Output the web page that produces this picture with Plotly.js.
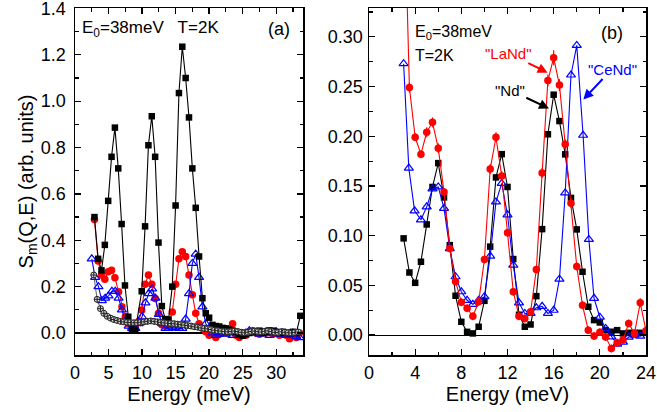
<!DOCTYPE html>
<html>
<head>
<meta charset="utf-8">
<script src="https://cdn.plot.ly/plotly-3.0.1.min.js"></script>
<style>
  html, body { margin: 0; padding: 0; background: #fff; }
  #chart { width: 657px; height: 412px; }
</style>
</head>
<body>
<div id="chart"></div>
<script>
// ---- Panel (a): full energy range ----
const aNdE   = [2.9, 3.45, 3.95, 4.45, 4.95, 5.45, 5.95, 6.45, 6.95, 7.45, 7.95, 8.5, 9.0, 9.95, 10.45, 10.95, 11.45, 11.95, 12.45, 12.95, 13.45, 13.95, 14.5, 15.0, 15.5, 16.0, 16.5, 17.0, 17.5, 18.0, 18.5, 19.0, 19.5, 20.0, 20.5, 21.0, 21.5, 22.0, 22.5, 23.0, 23.5, 24.0, 24.5, 25.0, 25.5, 26.0, 26.5, 27.0, 27.5, 28.0, 28.5, 29.0, 29.5, 30.0, 30.5, 31.0, 31.5, 32.0, 32.5, 33.0, 33.6];
const aNdS   = [0.50, 0.32, 0.27, 0.38, 0.57, 0.76, 0.886, 0.71, 0.47, 0.205, 0.07, 0.015, 0.01, 0.18, 0.46, 0.81, 0.935, 0.76, 0.39, 0.116, 0.06, 0.058, 0.20, 0.55, 1.035, 1.235, 1.10, 0.93, 0.71, 0.54, 0.33, 0.15, 0.085, 0.066, 0.035, 0.03, 0.028, 0.022, 0.02, 0.015, 0.01, 0.005, -0.005, -0.012, -0.005, 0.0, 0.005, 0.008, 0.01, 0.0, 0.005, 0.01, 0.01, 0.005, 0.0, 0.005, 0.0, 0.0, 0.005, 0.0, 0.074];

const aLaNdE = [2.9, 3.45, 3.95, 4.45, 4.95, 5.45, 5.95, 6.5, 7.0, 7.5, 8.0, 8.5, 9.0, 9.5, 9.95, 10.45, 10.95, 11.45, 11.95, 12.45, 12.95, 13.45, 13.95, 14.5, 15.0, 15.5, 16.0, 16.5, 17.0, 17.5, 18.0, 18.5, 19.0, 19.5, 20.0, 20.5, 21.0, 21.5, 22.0, 22.5, 23.0, 23.5, 24.0, 24.5, 25.0, 25.5, 26.0, 26.5, 27.0, 27.5, 28.0, 28.5, 29.0, 29.5, 30.0, 30.5, 31.0, 31.5, 32.0, 32.5, 33.0, 33.5];
const aLaNdS = [0.49, 0.31, 0.25, 0.232, 0.264, 0.271, 0.238, 0.178, 0.113, 0.07, 0.04, 0.03, 0.03, 0.05, 0.099, 0.21, 0.25, 0.21, 0.149, 0.085, 0.035, 0.03, 0.04, 0.09, 0.21, 0.32, 0.35, 0.33, 0.25, 0.165, 0.085, 0.04, 0.02, 0.005, -0.01, 0.0, -0.02, -0.005, 0.005, 0.0, 0.01, 0.04, -0.01, -0.02, 0.0, -0.01, 0.005, 0.01, 0.0, -0.005, 0.005, 0.0, 0.01, -0.005, 0.0, -0.01, 0.0, -0.01, -0.025, 0.0, -0.02, 0.0];

const aCeNdE = [2.5, 3.0, 3.5, 4.0, 4.5, 5.0, 5.5, 6.0, 6.5, 7.0, 7.5, 8.0, 8.5, 9.0, 9.5, 10.0, 10.5, 11.0, 11.5, 12.0, 12.5, 13.0, 13.5, 14.0, 14.5, 15.0, 15.5, 16.0, 16.5, 17.0, 17.5, 18.0, 18.5, 19.0, 19.5, 20.0, 20.5, 21.0, 21.5, 22.0, 22.5, 23.0, 23.5, 24.0, 24.5, 25.0, 25.5, 26.0, 26.5, 27.0, 27.5, 28.0, 28.5, 29.0, 29.5, 30.0, 30.5, 31.0, 31.5, 32.0, 32.5, 33.0, 33.5];
const aCeNdS = [0.32, 0.24, 0.2, 0.14, 0.15, 0.16, 0.18, 0.18, 0.15, 0.1, 0.05, 0.03, 0.02, 0.02, 0.04, 0.07, 0.13, 0.17, 0.19, 0.15, 0.08, 0.04, 0.02, 0.02, 0.025, 0.025, 0.02, 0.02, 0.06, 0.17, 0.30, 0.34, 0.24, 0.113, 0.04, 0.02, 0.0, -0.01, -0.005, 0.0, -0.005, 0.005, -0.01, 0.0, -0.01, -0.005, 0.0, 0.01, 0.005, 0.0, -0.005, 0.0, 0.005, -0.01, 0.0, 0.005, -0.005, 0.0, -0.01, -0.005, 0.0, -0.015, -0.02];

const aRefE  = [2.8, 3.3, 3.8, 4.3, 4.8, 5.3, 5.8, 6.3, 6.8, 7.3, 7.8, 8.3, 8.8, 9.3, 9.8, 10.3, 10.8, 11.3, 11.8, 12.3, 12.8, 13.3, 13.8, 14.3, 14.8, 15.3, 15.8, 16.3, 16.8, 17.3, 17.8, 18.3, 18.8, 19.3, 19.8, 20.3, 20.8, 21.3, 21.8, 22.3, 22.8, 23.3, 23.8, 24.3, 24.8, 25.3, 25.8, 26.3, 26.8, 27.3, 27.8, 28.3, 28.8, 29.3, 29.8, 30.3, 30.8, 31.3, 31.8, 32.3, 32.8, 33.3];
const aRefS  = [0.25, 0.145, 0.105, 0.085, 0.072, 0.064, 0.058, 0.054, 0.05, 0.048, 0.046, 0.045, 0.044, 0.044, 0.046, 0.048, 0.05, 0.052, 0.05, 0.048, 0.046, 0.044, 0.042, 0.041, 0.04, 0.038, 0.036, 0.034, 0.032, 0.03, 0.027, 0.025, 0.022, 0.02, 0.018, 0.015, 0.012, 0.01, 0.008, 0.006, 0.005, 0.006, 0.008, 0.006, 0.003, 0.001, 0.003, 0.006, 0.008, 0.006, 0.004, 0.007, 0.009, 0.006, 0.003, 0.002, 0.005, 0.003, 0.001, 0.0, 0.002, 0.004];

// ---- Panel (b): low-energy detail ----
const bNdE   = [3.0, 3.5, 4.0, 4.5, 5.0, 5.5, 6.0, 6.5, 7.0, 7.5, 8.0, 8.5, 9.0, 9.5, 10.0, 10.5, 11.0, 11.5, 12.0, 12.5, 13.0, 13.5, 14.0, 14.5, 15.0, 15.5, 16.0, 16.5, 17.0, 17.5, 18.0, 18.5, 19.0, 19.5, 20.0, 20.5, 21.0, 21.5, 22.0, 22.5, 23.0, 23.5, 24.0];
const bNdS   = [0.0973, 0.063, 0.0526, 0.0738, 0.1113, 0.149, 0.173, 0.1385, 0.0905, 0.0396, 0.0134, 0.0033, 0.0017, 0.0084, 0.0345, 0.089, 0.1586, 0.182, 0.149, 0.0765, 0.0205, 0.0084, 0.0107, 0.0392, 0.1066, 0.202, 0.2418, 0.2153, 0.1818, 0.138, 0.1063, 0.0637, 0.0285, 0.0151, 0.0127, 0.005, 0.0034, 0.005, 0.0017, 0.0023, 0.0023, 0.0023, 0.0023];

const bLaNdE = [2.95, 3.5, 4.0, 4.5, 5.0, 5.5, 6.0, 6.5, 7.0, 7.5, 8.0, 8.5, 9.0, 9.5, 10.0, 10.5, 11.0, 11.5, 12.0, 12.5, 13.0, 13.5, 14.0, 14.5, 15.0, 15.5, 16.0, 16.5, 17.0, 17.5, 18.0, 18.5, 19.0, 19.5, 20.0, 20.5, 21.0, 21.5, 22.0, 22.5, 23.0, 23.5, 24.0];
const bLaNdS = [0.49, 0.249, 0.199, 0.182, 0.204, 0.214, 0.188, 0.144, 0.087, 0.054, 0.033, 0.027, 0.019, 0.0335, 0.076, 0.167, 0.199, 0.16, 0.103, 0.0436, 0.019, 0.0168, 0.0235, 0.066, 0.163, 0.256, 0.279, 0.2515, 0.192, 0.1325, 0.069, 0.030, 0.005, -0.001, 0.003, -0.002, -0.0134, -0.0077, -0.005, 0.0118, 0.0017, 0.0325, 0.0043];
const bLaNdErr = [0.008, 0.005, 0.004, 0.004, 0.005, 0.005, 0.005, 0.004, 0.004, 0.004, 0.004, 0.004, 0.004, 0.004, 0.004, 0.005, 0.005, 0.005, 0.004, 0.004, 0.004, 0.004, 0.004, 0.004, 0.005, 0.006, 0.0075, 0.006, 0.005, 0.005, 0.004, 0.004, 0.004, 0.004, 0.004, 0.004, 0.004, 0.004, 0.004, 0.004, 0.004, 0.0045, 0.004];

const bCeNdE = [3.0, 3.45, 3.95, 4.5, 5.0, 5.5, 6.0, 6.5, 7.0, 7.5, 8.0, 8.5, 9.0, 9.5, 10.0, 10.5, 11.0, 11.5, 12.0, 12.5, 13.0, 13.5, 14.0, 14.5, 15.0, 15.5, 16.0, 16.5, 17.0, 17.5, 18.0, 18.55, 19.05, 19.5, 20.0, 20.5, 21.0, 21.5, 22.0, 22.5, 23.0, 23.5, 24.0];
const bCeNdS = [0.273, 0.168, 0.125, 0.116, 0.129, 0.147, 0.149, 0.1275, 0.087, 0.0587, 0.0436, 0.035, 0.031, 0.035, 0.0386, 0.0795, 0.134, 0.1526, 0.121, 0.0704, 0.0325, 0.0218, 0.0218, 0.0275, 0.029, 0.0218, 0.025, 0.0563, 0.143, 0.2616, 0.2914, 0.201, 0.0963, 0.037, 0.018, 0.0067, -0.0017, -0.009, -0.007, -0.002, 0.0, -0.001, 0.002];

// Axis tick values and labels
const aTickVals = [0, 0.2, 0.4, 0.6, 0.8, 1.0, 1.2, 1.4];
const aTickText = ['0.0', '0.2', '0.4', '0.6', '0.8', '1.0', '1.2', '1.4'];

// Labels drawn in the panels
const panelATag = '(a)';
const panelBTag = '(b)';
const condA = 'E<sub>0</sub>=38meV\u00a0\u00a0 T=2K';
const condB1 = 'E<sub>0</sub>=38meV';
const condB2 = 'T=2K';
const sampleNames = ['"LaNd"', '"Nd"', '"CeNd"'];

const FONT = 'Arial, "Liberation Sans", sans-serif';
const RED = '#ff0000', BLUE = '#0000ff', BLACK = '#000000';

function line(color) { return { color: color, width: 1.1 }; }

const traces = [
  { x: aLaNdE, y: aLaNdS, xaxis: 'x', yaxis: 'y', mode: 'lines+markers', line: line(RED),
    marker: { symbol: 'circle', size: 7.5, color: RED } },
  { x: aCeNdE, y: aCeNdS, xaxis: 'x', yaxis: 'y', mode: 'lines+markers', line: line(BLUE),
    marker: { symbol: 'triangle-up-open', size: 8, color: BLUE, line: { width: 1.2, color: BLUE } } },
  { x: aNdE, y: aNdS, xaxis: 'x', yaxis: 'y', mode: 'lines+markers', line: line(BLACK),
    marker: { symbol: 'square', size: 6.5, color: BLACK } },
  { x: aRefE, y: aRefS, xaxis: 'x', yaxis: 'y', mode: 'lines+markers', line: { color: '#333', width: 0.8 },
    marker: { symbol: 'circle-cross', size: 6, color: '#d8d8d8', line: { width: 1, color: '#222' } } },

  { x: bNdE, y: bNdS, xaxis: 'x2', yaxis: 'y2', mode: 'lines+markers', line: line(BLACK),
    marker: { symbol: 'square', size: 6.5, color: BLACK } },
  { x: bCeNdE, y: bCeNdS, xaxis: 'x2', yaxis: 'y2', mode: 'lines+markers', line: line(BLUE),
    marker: { symbol: 'triangle-up-open', size: 8, color: BLUE, line: { width: 1.2, color: BLUE } } },
  { x: bLaNdE, y: bLaNdS, xaxis: 'x2', yaxis: 'y2', mode: 'lines+markers', line: line(RED),
    error_y: { type: 'data', array: bLaNdErr, visible: true, color: RED, thickness: 1.2, width: 0 },
    marker: { symbol: 'circle', size: 7.5, color: RED } }
];

const axisCommon = {
  showline: true, linecolor: '#000', linewidth: 1.5, mirror: 'ticks',
  ticks: 'inside', ticklen: 6, tickwidth: 1.3, tickcolor: '#000',
  showgrid: false, zeroline: false, ticklabeloverflow: 'allow',
  tickfont: { family: FONT, size: 18, color: '#000' }
};
function minor(dt) { return { dtick: dt, ticks: 'inside', ticklen: 3.5, tickwidth: 1.2, tickcolor: '#000', showgrid: false }; }

const ydom = [57 / 412, 404 / 412];

const layout = {
  width: 657, height: 412,
  margin: { l: 0, r: 0, t: 0, b: 0 },
  paper_bgcolor: '#fff', plot_bgcolor: '#fff',
  showlegend: false,
  font: { family: FONT, color: '#000' },
  xaxis: Object.assign({}, axisCommon, {
    domain: [75 / 657, 303 / 657], range: [0, 34], dtick: 5, tick0: 0, anchor: 'y',
    minor: minor(2.5), ticklabelstandoff: 1,
    title: { text: 'Energy (meV)', font: { family: FONT, size: 20 }, standoff: 3 }
  }),
  yaxis: Object.assign({}, axisCommon, {
    domain: ydom, range: [-0.095, 1.402], tickmode: 'array', tickvals: aTickVals, ticktext: aTickText,
    anchor: 'x', ticklabelstandoff: 4,
    zeroline: true, zerolinecolor: '#000', zerolinewidth: 1.2,
    minor: minor(0.1),
    title: { text: 'S<sub>m</sub>(Q,E) (arb. units)', font: { family: FONT, size: 20 }, standoff: 2 }
  }),
  xaxis2: Object.assign({}, axisCommon, {
    domain: [369 / 657, 646 / 657], range: [0, 24], dtick: 4, tick0: 0, anchor: 'y2',
    minor: minor(2), ticklabelstandoff: 1,
    title: { text: 'Energy (meV)', font: { family: FONT, size: 20 }, standoff: 3 }
  }),
  yaxis2: Object.assign({}, axisCommon, {
    domain: ydom, range: [-0.02, 0.329], dtick: 0.05, tick0: 0, tickformat: '.2f', anchor: 'x2',
    ticklabelstandoff: 1,
    zeroline: true, zerolinecolor: '#000', zerolinewidth: 1.2,
    minor: minor(0.025)
  }),
  annotations: [
    { xref: 'x', yref: 'y', x: 0.8, y: 1.31, text: condA, showarrow: false, xanchor: 'left',
      font: { family: FONT, size: 17 } },
    { xref: 'x', yref: 'y', x: 32.3, y: 1.31, text: panelATag, showarrow: false, xanchor: 'right',
      font: { family: FONT, size: 18 } },
    { xref: 'x2', yref: 'y2', x: 3.8, y: 0.304, text: condB1, showarrow: false, xanchor: 'left',
      font: { family: FONT, size: 16 } },
    { xref: 'x2', yref: 'y2', x: 3.8, y: 0.281, text: condB2, showarrow: false, xanchor: 'left',
      font: { family: FONT, size: 16 } },
    { xref: 'x2', yref: 'y2', x: 22.2, y: 0.304, text: panelBTag, showarrow: false, xanchor: 'right',
      font: { family: FONT, size: 18 } },

    // sample labels, each with an arrow pointing at its peak
    { xref: 'x2', yref: 'y2', axref: 'x2', ayref: 'y2', x: 15.48, y: 0.264, ax: 12.05, ay: 0.2837,
      text: sampleNames[0], font: { family: FONT, size: 15, color: RED },
      showarrow: true, arrowhead: 2, arrowsize: 1, arrowwidth: 2, arrowcolor: RED },
    { xref: 'x2', yref: 'y2', axref: 'x2', ayref: 'y2', x: 15.6, y: 0.228, ax: 12.2, ay: 0.2465,
      text: sampleNames[1], font: { family: FONT, size: 15, color: BLACK },
      showarrow: true, arrowhead: 2, arrowsize: 1, arrowwidth: 2, arrowcolor: BLACK },
    { xref: 'x2', yref: 'y2', axref: 'x2', ayref: 'y2', x: 18.57, y: 0.237, ax: 21.06, ay: 0.2676,
      text: sampleNames[2], font: { family: FONT, size: 15, color: BLUE },
      showarrow: true, arrowhead: 2, arrowsize: 1, arrowwidth: 2, arrowcolor: BLUE }
  ]
};

Plotly.newPlot('chart', traces, layout, { staticPlot: true, displayModeBar: false });
</script>
</body>
</html>
